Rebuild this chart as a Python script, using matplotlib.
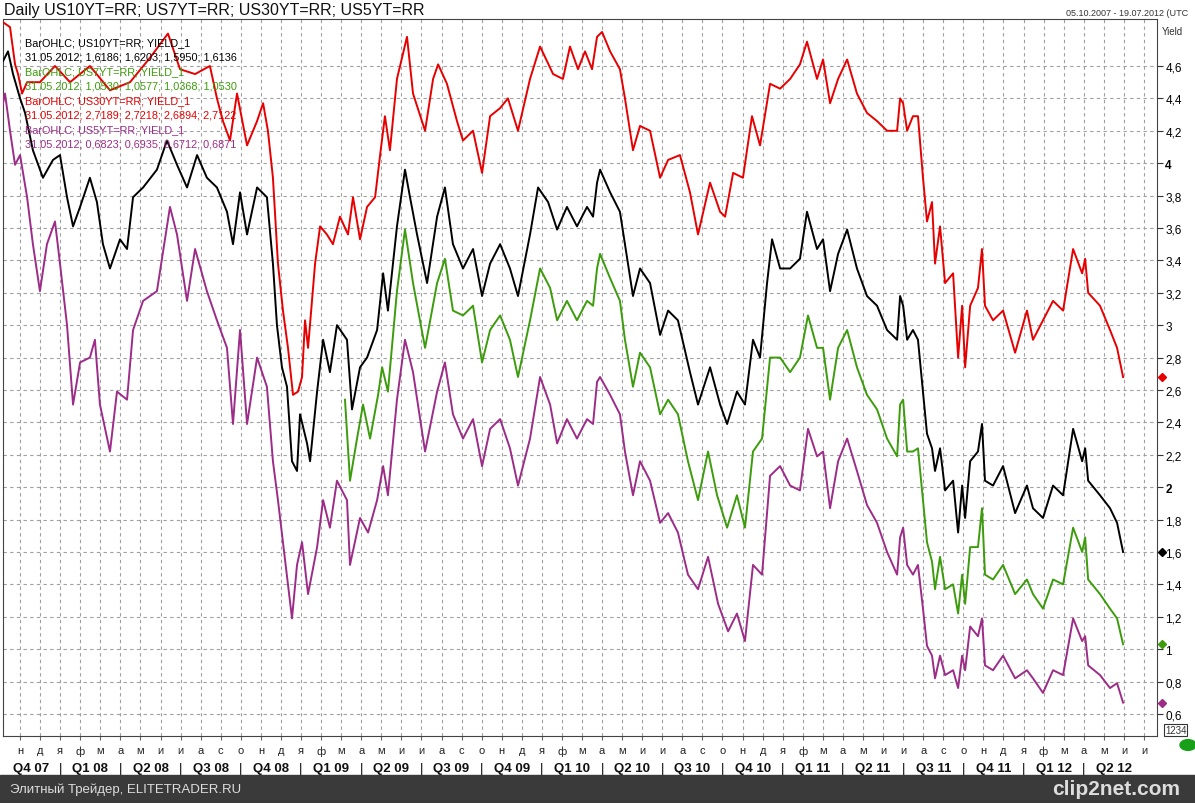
import matplotlib
matplotlib.use("Agg")
import matplotlib.pyplot as plt
from matplotlib.ticker import FixedLocator, FuncFormatter

plt.rcParams['font.family'] = ['Liberation Sans', 'DejaVu Sans']

# x = months since 2007-10-01
us10_x = [0.15,0.40,0.65,1.00,1.25,1.64,2.14,2.64,2.99,3.34,3.64,3.99,4.48,4.83,5.13,5.48,5.98,6.33,6.63,7.13,7.82,8.32,8.82,9.32,9.82,10.31,10.81,11.31,11.61,11.96,12.31,12.81,13.30,13.60,13.80,14.05,14.30,14.55,14.80,
          14.95,15.30,15.45,15.80,16.10,16.44,16.79,17.29,17.54,17.94,18.29,18.79,19.09,19.33,19.78,20.18,20.43,20.78,21.28,21.78,22.17,22.57,23.07,23.57,24.02,24.42,24.92,25.41,25.81,26.41,26.81,27.31,27.76,28.25,28.75,29.25,29.55,29.75,
          29.90,30.40,30.89,31.14,31.54,31.89,32.39,32.89,33.29,33.78,34.38,34.78,35.38,35.88,36.23,36.72,37.12,37.52,37.87,38.22,38.47,38.87,39.37,39.86,40.21,40.71,41.01,41.36,41.76,42.21,42.70,43.20,43.70,44.20,44.70,
          44.85,45.00,45.20,45.49,45.74,45.99,46.19,46.44,46.59,46.84,47.09,47.49,47.74,47.94,48.09,48.34,48.73,48.93,49.08,49.48,49.98,50.58,51.17,51.47,51.97,52.47,52.97,53.47,53.92,54.07,54.22,54.81,55.31,55.66,55.96]
us10_y = [4.63,4.69,4.55,4.40,4.31,4.08,3.91,4.02,4.05,3.79,3.61,3.73,3.91,3.76,3.50,3.35,3.53,3.47,3.79,3.85,3.96,4.14,3.99,3.85,4.05,3.91,3.85,3.70,3.50,3.82,3.56,3.85,3.79,3.38,3.00,2.74,2.62,2.16,2.10,
          2.45,2.27,2.16,2.59,2.91,2.71,3.00,2.91,2.48,2.74,2.80,2.97,3.32,3.09,3.61,3.96,3.79,3.56,3.26,3.67,3.85,3.50,3.35,3.47,3.18,3.38,3.50,3.35,3.18,3.56,3.85,3.76,3.59,3.73,3.61,3.73,3.67,3.88,
          3.96,3.82,3.70,3.50,3.18,3.35,3.26,2.94,3.09,3.03,2.71,2.51,2.74,2.51,2.39,2.59,2.51,2.91,2.80,3.26,3.53,3.35,3.35,3.41,3.70,3.47,3.53,3.21,3.44,3.59,3.35,3.18,3.12,2.97,2.91,
          3.18,3.12,2.91,2.97,2.91,2.59,2.33,2.24,2.10,2.24,1.98,2.04,1.72,2.01,1.81,2.16,2.22,2.39,2.04,2.01,2.13,1.84,2.01,1.87,1.81,2.01,1.95,2.36,2.16,2.24,2.04,1.95,1.87,1.78,1.60]

us7_x = [17.19,17.44,17.79,18.09,18.44,18.84,19.04,19.33,19.78,20.18,20.58,21.18,21.78,22.17,22.57,23.07,23.57,24.02,24.42,24.92,25.41,25.81,26.41,26.91,27.41,27.76,28.25,28.75,29.25,29.55,29.75,
         29.90,30.40,30.89,31.14,31.54,31.89,32.39,32.89,33.29,33.78,34.28,34.78,35.28,35.73,36.23,36.72,37.12,37.52,37.97,38.37,38.87,39.37,39.86,40.26,40.71,41.01,41.36,41.76,42.21,42.70,43.20,43.70,44.20,44.70,
         44.85,45.00,45.20,45.49,45.74,45.99,46.19,46.44,46.59,46.84,47.09,47.49,47.74,47.94,48.09,48.34,48.73,48.93,49.08,49.48,49.98,50.58,51.17,51.47,51.97,52.47,52.97,53.47,53.92,54.07,54.22,54.81,55.31,55.66,55.96]
us7_y = [2.54,2.04,2.30,2.51,2.30,2.57,2.74,2.59,3.21,3.59,3.26,2.86,3.26,3.41,3.09,3.06,3.12,2.77,2.97,3.06,2.91,2.68,3.03,3.35,3.23,3.03,3.15,3.03,3.15,3.12,3.35,
         3.44,3.29,3.15,2.91,2.62,2.83,2.74,2.45,2.54,2.45,2.16,1.92,2.22,1.95,1.75,1.95,1.75,2.22,2.30,2.80,2.80,2.71,2.80,3.06,2.86,2.86,2.54,2.86,2.97,2.74,2.57,2.48,2.30,2.19,
         2.51,2.54,2.22,2.22,2.24,1.92,1.66,1.54,1.37,1.57,1.37,1.40,1.22,1.46,1.28,1.63,1.63,1.87,1.46,1.43,1.52,1.34,1.43,1.34,1.25,1.43,1.40,1.75,1.60,1.69,1.43,1.34,1.25,1.19,1.03]

us30_x = [0.15,0.50,0.75,0.90,1.10,1.35,1.99,2.74,3.49,4.48,5.48,6.48,7.47,8.37,8.97,9.72,10.46,10.81,11.11,11.46,11.81,12.31,12.81,13.11,13.35,13.60,13.85,14.10,14.35,14.60,14.85,
          15.05,15.20,15.35,15.70,15.95,16.29,16.59,16.94,17.34,17.59,17.94,18.29,18.69,18.94,19.18,19.43,19.78,20.28,20.58,21.18,21.58,21.83,22.27,22.77,23.07,23.57,24.02,24.42,24.92,25.31,25.81,26.41,26.91,27.56,28.05,28.40,28.80,29.15,29.50,29.75,
          30.00,30.40,30.89,31.14,31.54,31.89,32.39,32.89,33.29,33.88,34.38,34.78,35.38,35.88,36.13,36.53,37.02,37.47,37.87,38.37,38.87,39.37,39.86,40.21,40.71,41.01,41.36,41.76,42.21,42.70,43.20,43.70,44.20,44.70,
          44.85,45.00,45.20,45.49,45.74,45.99,46.19,46.44,46.59,46.84,47.09,47.49,47.74,47.94,48.09,48.34,48.73,48.93,49.08,49.48,49.98,50.58,51.17,51.47,51.97,52.47,52.97,53.47,53.92,54.07,54.22,54.81,55.31,55.66,55.96]
us30_y = [4.87,4.84,4.61,4.55,4.43,4.50,4.50,4.60,4.50,4.60,4.45,4.50,4.65,4.80,4.58,4.55,4.60,4.40,4.26,4.14,4.43,4.11,4.26,4.37,4.20,3.91,3.38,3.09,2.86,2.57,2.59,
          2.68,3.03,2.86,3.38,3.61,3.56,3.50,3.67,3.56,3.79,3.53,3.73,3.79,4.05,4.29,4.08,4.52,4.78,4.43,4.20,4.52,4.61,4.49,4.26,4.14,4.20,3.94,4.29,4.34,4.40,4.20,4.52,4.72,4.55,4.52,4.72,4.58,4.69,4.58,4.78,
          4.81,4.69,4.58,4.40,4.08,4.23,4.20,3.91,4.02,4.05,3.82,3.56,3.88,3.70,3.67,3.94,3.91,4.29,4.11,4.49,4.46,4.52,4.61,4.75,4.52,4.64,4.37,4.52,4.64,4.43,4.31,4.26,4.20,4.20,
          4.40,4.37,4.20,4.29,4.29,3.91,3.64,3.76,3.38,3.61,3.26,3.32,2.80,3.12,2.74,3.12,3.23,3.47,3.12,3.03,3.09,2.83,3.09,2.91,3.03,3.15,3.09,3.47,3.32,3.41,3.20,3.12,2.97,2.86,2.68]

us5_x = [0.10,0.25,0.50,0.75,1.00,1.35,1.64,1.99,2.34,2.74,2.99,3.34,3.64,3.99,4.48,4.73,4.98,5.48,5.83,6.33,6.63,7.13,7.82,8.47,8.82,9.32,9.72,10.31,10.81,11.31,11.61,11.96,12.31,12.81,13.30,13.60,13.85,14.10,14.35,14.55,14.80,
         15.05,15.35,15.80,16.10,16.44,16.79,17.29,17.44,17.94,18.34,18.79,19.09,19.33,19.78,20.18,20.58,21.18,21.78,22.17,22.57,23.07,23.57,24.02,24.42,24.92,25.41,25.81,26.41,26.91,27.41,27.76,28.25,28.75,29.25,29.55,29.75,
         29.90,30.40,30.89,31.14,31.54,31.89,32.39,32.89,33.29,33.78,34.28,34.78,35.28,35.78,36.28,36.72,37.12,37.52,37.97,38.37,38.87,39.37,39.86,40.26,40.71,41.01,41.36,41.76,42.21,42.70,43.20,43.70,44.20,44.70,
         44.85,45.00,45.20,45.49,45.74,45.99,46.19,46.44,46.59,46.84,47.09,47.49,47.74,47.94,48.09,48.34,48.73,48.93,49.08,49.48,49.98,50.58,51.17,51.47,51.97,52.47,52.97,53.47,53.92,54.07,54.22,54.81,55.31,55.66,55.96]
us5_y = [4.34,4.43,4.20,3.99,4.05,3.79,3.50,3.21,3.50,3.64,3.38,3.00,2.51,2.77,2.80,2.91,2.51,2.22,2.59,2.54,2.97,3.15,3.21,3.73,3.56,3.15,3.47,3.21,3.03,2.86,2.39,2.97,2.39,2.80,2.62,2.16,1.92,1.66,1.40,1.19,1.52,
         1.66,1.34,1.63,1.92,1.75,2.04,1.92,1.52,1.81,1.72,1.92,2.13,1.95,2.54,2.91,2.71,2.22,2.59,2.77,2.45,2.30,2.42,2.13,2.36,2.42,2.24,2.01,2.30,2.68,2.51,2.27,2.42,2.30,2.42,2.39,2.65,
         2.68,2.57,2.45,2.22,1.95,2.16,2.04,1.78,1.84,1.72,1.46,1.37,1.57,1.28,1.11,1.22,1.05,1.52,1.46,2.07,2.13,2.01,1.98,2.36,2.19,2.22,1.87,2.16,2.30,2.10,1.89,1.78,1.60,1.46,
         1.69,1.75,1.52,1.46,1.52,1.25,1.02,0.96,0.82,0.96,0.84,0.87,0.76,0.96,0.87,1.14,1.08,1.19,0.90,0.87,0.96,0.82,0.87,0.82,0.73,0.87,0.84,1.19,1.05,1.08,0.90,0.84,0.76,0.79,0.67]

series_names = ["US10YT=RR", "US7YT=RR", "US30YT=RR", "US5YT=RR"]
legend_values = ["31.05.2012; 1,6186; 1,6203; 1,5950; 1,6136",
                 "31.05.2012; 1,0530; 1,0577; 1,0368; 1,0530",
                 "31.05.2012; 2,7189; 2,7218; 2,6894; 2,7122",
                 "31.05.2012; 0,6823; 0,6935; 0,6712; 0,6871"]
colors = ["#000000", "#3c9c0c", "#e80000", "#9c2c88"]
month_letters = ["я","ф","м","а","м","и","и","а","с","о","н","д"]
quarter_labels = ["Q4 07","Q1 08","Q2 08","Q3 08","Q4 08","Q1 09","Q2 09","Q3 09","Q4 09",
                  "Q1 10","Q2 10","Q3 10","Q4 10","Q1 11","Q2 11","Q3 11","Q4 11","Q1 12","Q2 12"]
yticks = [0.6,0.8,1.0,1.2,1.4,1.6,1.8,2.0,2.2,2.4,2.6,2.8,3.0,3.2,3.4,3.6,3.8,4.0,4.2,4.4,4.6]

W, H = 1195, 804
fig = plt.figure(figsize=(W/100, H/100), dpi=100)
fig.patch.set_facecolor("white")
x0, x1, y0, y1 = 3, 1157, 20, 737
ax = fig.add_axes([x0/W, 1-y1/H, (x1-x0)/W, (y1-y0)/H])
XMIN, XMAX = 0.15, 57.65
ax.set_xlim(XMIN, XMAX)
ax.set_ylim(0.464, 4.89)

xs = [us10_x, us7_x, us30_x, us5_x]
ys = [us10_y, us7_y, us30_y, us5_y]
for order in [2, 0, 1, 3]:
    ax.plot(xs[order], ys[order], color=colors[order], lw=1.4, zorder=3)

ax.xaxis.set_major_locator(FixedLocator(list(range(1, 58))))
ax.yaxis.set_major_locator(FixedLocator(yticks))
ax.grid(True, color="#a0a0a0", ls=(0, (3, 3)), lw=0.8)
ax.tick_params(axis="x", length=3, labelbottom=False, color="#666666")
ax.yaxis.tick_right()
ax.tick_params(axis="y", length=4, labelsize=8.5, pad=2, color="#333333")

def fmt(v, p):
    s = ("%.1f" % v).replace(".", ",")
    if s.endswith(",0"):
        s = s[:-2]
    return s
ax.yaxis.set_major_formatter(FuncFormatter(fmt))
fig.canvas.draw()
for lab in ax.get_yticklabels():
    if lab.get_text() in ("2", "4"):
        lab.set_fontweight("bold")
for s in ax.spines.values():
    s.set_color("#444444")

# legend texts
step = 14.5 / 717
for i in range(4):
    ax.text(0.019, 0.968 - 2*i*step, "BarOHLC; %s; YIELD_1" % series_names[i], transform=ax.transAxes,
            fontsize=7.8, color=colors[i], va="center", zorder=5)
    ax.text(0.019, 0.968 - (2*i+1)*step, legend_values[i], transform=ax.transAxes,
            fontsize=7.8, color=colors[i], va="center", zorder=5)

# month labels
for m in range(1, 58):
    ax.text(m, -0.013, month_letters[(m + 9) % 12], transform=ax.get_xaxis_transform(),
            ha="center", va="top", fontsize=8, color="#222222")
# quarter labels
for q, lab in enumerate(quarter_labels):
    start = max(XMIN, q*3)
    end = min(XMAX, q*3 + 3)
    ax.text((start+end)/2, -0.036, lab, transform=ax.get_xaxis_transform(),
            ha="center", va="top", fontsize=9.5, fontweight="bold", color="#111111")
    if q > 0:
        ax.text(q*3, -0.036, "|", transform=ax.get_xaxis_transform(),
                ha="center", va="top", fontsize=9.5, color="#111111")

# right markers at last values
for i in range(4):
    ax.plot([1.004], [ys[i][-1]], marker="D", ms=4.5, color=colors[i],
            transform=ax.get_yaxis_transform(), clip_on=False)

fig.text(4/W, 1-10/H, "Daily US10YT=RR; US7YT=RR; US30YT=RR; US5YT=RR", fontsize=11.5,
         va="center", ha="left", color="#111111")
fig.text(1188/W, 1-13/H, "05.10.2007 - 19.07.2012 (UTC", fontsize=6.5, ha="right", va="center", color="#333333")
fig.text(1162/W, 1-32/H, "Yield", fontsize=7, ha="left", va="center", color="#333333")
fig.text(1165/W, 1-731/H, "1234", fontsize=7, ha="left", va="center", color="#333333",
         bbox=dict(boxstyle="square,pad=0.1", fc="white", ec="#333333", lw=0.8))
fig.patches.append(plt.Circle((1188/W, 1-746/H), 8/W, transform=fig.transFigure, color="#18a018"))

# footer
fig.patches.append(plt.Rectangle((0, 0), 1, 28/H, transform=fig.transFigure, color="#3a3a3a"))
fig.text(10/W, 14/H, "Элитный Трейдер, ELITETRADER.RU", fontsize=9.5, color="#dddddd", va="center")
fig.text(1180/W, 14/H, "clip2net.com", fontsize=15, color="#dddddd", va="center", ha="right", fontweight="bold")

fig.savefig("out.png", dpi=100)
